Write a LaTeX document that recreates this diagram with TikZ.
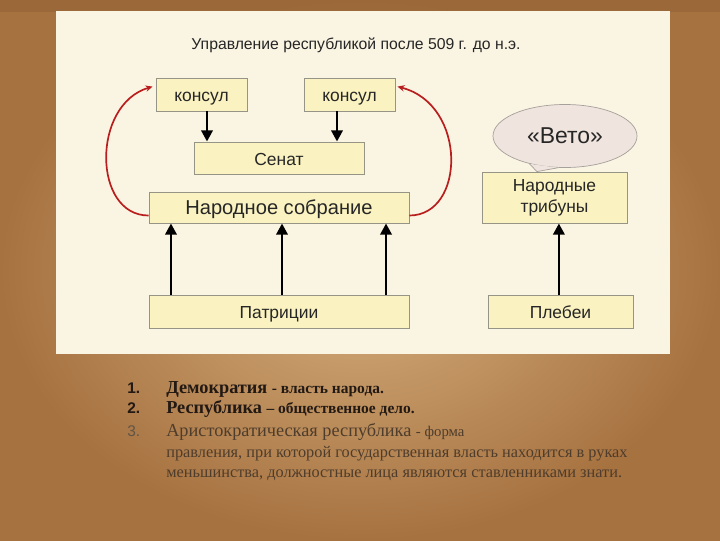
\documentclass[tikz,border=0pt]{standalone}
\usepackage{fontspec}
\setmainfont{Liberation Serif}
\newfontfamily\arial{Liberation Sans}
\usetikzlibrary{arrows.meta,shapes.geometric}

\definecolor{parchlight}{RGB}{214,176,126}
\definecolor{parchdark}{RGB}{166,114,64}
\definecolor{parchdeep}{RGB}{130,82,42}
\definecolor{panel}{RGB}{250,244,226}
\definecolor{boxfill}{RGB}{250,242,192}
\definecolor{boxline}{RGB}{150,148,135}
\definecolor{vetofill}{RGB}{240,228,222}
\definecolor{vetoline}{RGB}{165,160,155}
\definecolor{redline}{RGB}{185,30,30}
\definecolor{inkdark}{RGB}{35,25,20}
\definecolor{inkgrey}{RGB}{78,60,44}
\definecolor{numgrey}{RGB}{96,84,72}

\tikzset{
  blok/.style={draw=boxline, line width=0.6pt, fill=boxfill, inner sep=0pt,
    text=black!85, font=\arial\fontsize{12.4}{15}\selectfont},
  enkel/.style={text height=10pt, text depth=0pt},
  pil/.style={line width=2pt, -{Triangle[width=8pt,length=8pt]}},
  rodpil/.style={redline, line width=1.2pt, -{Stealth[length=5pt,width=4.5pt]}},
  punkt/.style={anchor=base west, inner sep=0pt}
}

\begin{document}
\begin{tikzpicture}[x=0.025cm, y=0.025cm]
			%%%%% START %%%%%
			\useasboundingbox (0, 0) rectangle (720, -540);
			
			% parchment
			\shade[inner color=parchlight, outer color=parchdark] (0, 0) rectangle (720, -540);
			\fill[parchdeep, opacity=0.3] (0, 0) rectangle (720, -12);
			
			% panel
			\fill[panel] (56, -11) rectangle (670, -354);
			
			\node[font=\arial\fontsize{11.2}{13}\selectfont, text=black!85] (titel) at (356, -45) {Управление республикой после 509 г. до н.э.};
			
			\node[blok, enkel, minimum width=2.275cm, minimum height=0.825cm] (k1) at (201.5, -94.5) {консул};
			\node[blok, enkel, minimum width=2.275cm, minimum height=0.825cm] (k2) at (349.5, -94.5) {консул};
			\node[blok, enkel, minimum width=4.25cm, minimum height=0.8cm] (senat) at (279, -158) {Сенат};
			\node[blok, enkel, minimum width=6.5cm, minimum height=0.775cm, font=\arial\fontsize{14.3}{16}\selectfont] (sobr) at (279, -207.5) {Народное собрание};
			\node[blok, enkel, minimum width=6.5cm, minimum height=0.825cm] (patr) at (279, -311.5) {Патриции};
			\node[blok, enkel, minimum width=3.625cm, minimum height=0.825cm] (pleb) at (560.5, -311.5) {Плебеи};
			\node[blok, align=center, minimum width=3.625cm, minimum height=1.275cm] (trib) at (554.5, -197.5) {Народные\\трибуны};
			
			% veto bubble
			\node[ellipse, draw=vetoline, line width=0.5pt, fill=vetofill, inner sep=0pt, minimum width=3.6cm, minimum height=1.575cm, font=\arial\fontsize{16.3}{18}\selectfont, text=black!85] (veto) at (565, -136) {«Вето»};
			\coordinate (spets) at ([xshift=-0.44cm]trib.north);
			\fill[vetofill] (veto.219) -- (spets) -- (veto.257) -- cycle;
			\draw[vetoline, line width=0.5pt] (veto.218) -- (spets) -- (veto.258);
			
			% arrows
			\draw[pil] ([xshift=0.1375cm]k1.south) -- ([xshift=0.1375cm]k1.south |- senat.north);
			\draw[pil] ([xshift=-0.3125cm]k2.south) -- ([xshift=-0.3125cm]k2.south |- senat.north);
			\foreach \dx in {-2.7, 0.075, 2.675}
				\draw[pil] ([xshift=\dx cm]patr.north) -- ([xshift=\dx cm]sobr.south);
			\draw[pil] ([xshift=-0.04cm]pleb.north) -- ([xshift=-0.04cm]pleb.north |- trib.south);
			
			\draw[rodpil] ([yshift=-0.2cm]sobr.west) .. controls +(-56, 0) and +(-61, -18) .. ([shift={(-3, -9)}]k1.north west);
			\draw[rodpil] ([yshift=-0.2cm]sobr.east) .. controls +(56, 0) and +(70, -18) .. ([shift={(2, -9)}]k2.north east);
			
			% list
			\node[punkt, font=\arial\bfseries\fontsize{11}{13}\selectfont, text=inkdark] (n1) at (127, -393) {1.};
			\node[punkt, font=\arial\bfseries\fontsize{11}{13}\selectfont, text=inkdark] (n2) at (127, -413) {2.};
			\node[punkt, font=\arial\fontsize{11}{13}\selectfont, text=numgrey] (n3) at (127, -436) {3.};
			\node[punkt, text=inkdark] (r1) at (166, -393) {\bfseries\fontsize{13}{15}\selectfont Демократия \fontsize{11}{12}\selectfont - власть народа.};
			\node[punkt, text=inkdark] (r2) at (166, -413) {\bfseries\fontsize{13}{15}\selectfont Республика \fontsize{11}{12}\selectfont -- общественное дело.};
			\node[punkt, text=inkgrey] (r3) at (166, -436) {\fontsize{13}{15}\selectfont Аристократическая республика \fontsize{10.5}{12}\selectfont - форма};
			\node[punkt, text=inkgrey, font=\fontsize{11.6}{13}\selectfont] (r4) at (166, -457) {правления, при которой государственная власть находится в руках};
			\node[punkt, text=inkgrey, font=\fontsize{11.6}{13}\selectfont] (r5) at (166, -477) {меньшинства, должностные лица являются ставленниками знати.};
			
			%%%%% END %%%%%
		\end{tikzpicture}
\end{document}
